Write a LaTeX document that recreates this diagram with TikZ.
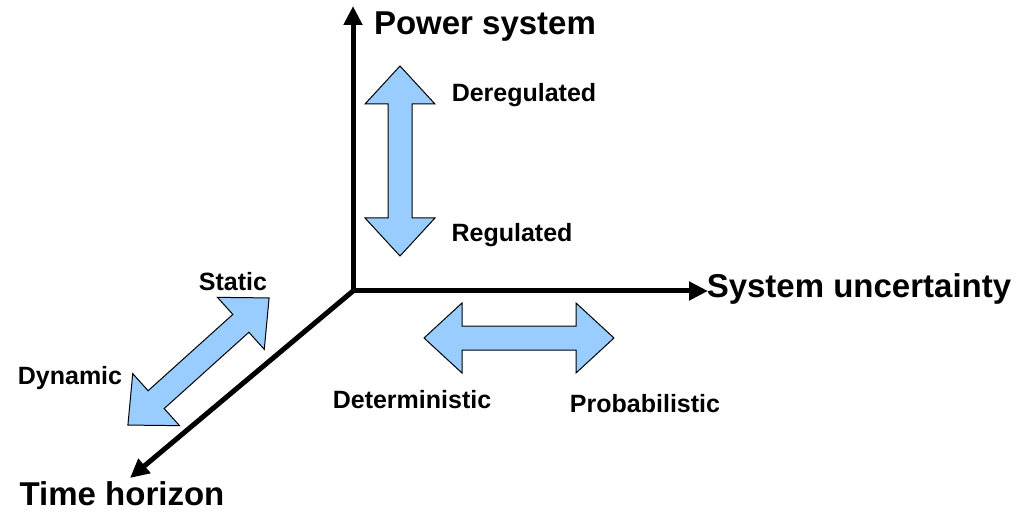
\documentclass[tikz,border=0pt]{standalone}
\usepackage{fontspec}
\setmainfont{Liberation Sans}
\usetikzlibrary{arrows.meta}
\definecolor{blockblue}{RGB}{153,204,255}
\tikzset{
  axis/.style={line width=5pt, -{Triangle[length=19pt,width=18pt]}},
  biglabel/.style={font=\fontsize{33}{38}\selectfont\bfseries, inner sep=0pt},
  smalllabel/.style={font=\fontsize{25}{29}\selectfont\bfseries, inner sep=0pt},
  blockstyle/.style={draw=black, line width=1pt, fill=blockblue, line join=miter},
  dblarrow/.pic={
    \path[blockstyle] (-95,0) -- (-57,35) -- (-57,12) -- (57,12) -- (57,35) -- (95,0)
      -- (57,-35) -- (57,-12) -- (-57,-12) -- (-57,-35) -- cycle;
  }
}
\begin{document}
\begin{tikzpicture}[x=1pt, y=-1pt]
\useasboundingbox (0,0) rectangle (1018,513);
% axes
\coordinate (o) at (353,291);
\coordinate (ytip) at (353,6);
\coordinate (xtip) at (708,291);
\coordinate (ztip) at (130,478);
\draw[axis] (o) -- (ytip);
\draw[axis] (o) -- (xtip);
\draw[axis] (o) -- (ztip);
% block arrows
\pic[rotate=90] at (400,161) {dblarrow};
\pic at (519,338) {dblarrow};
\pic[rotate=42] at (198.5,361.5) {dblarrow};
% labels
\node[biglabel] (ps) at (485,27) {Power system};
\node[biglabel] (su) at (859,289) {System uncertainty};
\node[biglabel] (th) at (122,494) {Time horizon};
\node[smalllabel] (dereg) at (524,95) {Deregulated};
\node[smalllabel] (reg) at (512,235) {Regulated};
\node[smalllabel] (stat) at (233,282) {Static};
\node[smalllabel] (dyn) at (70,378) {Dynamic};
\node[smalllabel] (det) at (412,400) {Deterministic};
\node[smalllabel] (prob) at (645,404) {Probabilistic};
\end{tikzpicture}
\end{document}
